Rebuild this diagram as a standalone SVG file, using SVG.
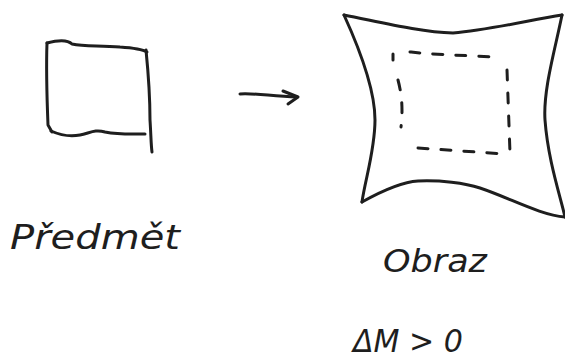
<svg xmlns="http://www.w3.org/2000/svg" width="565" height="363" viewBox="0 0 565 363">
<style>
.ink{fill:none;stroke:#1e1e1e;stroke-width:3;stroke-linecap:round;stroke-linejoin:round}
.dash{fill:none;stroke:#1e1e1e;stroke-width:3;stroke-linecap:round;stroke-dasharray:10 13}
.lbl{font-family:"DejaVu Sans","Liberation Sans",sans-serif;font-style:italic;fill:#1e1e1e}
</style>
<rect width="565" height="363" fill="#ffffff"/>
<g id="predmet">
<path class="ink" d="M47,43 C58,40 68,40 72,44 C85,47 100,45 120,47 C135,48 142,49 147,52"/>
<path class="ink" d="M146,50 C148,70 150,100 150,120 C151,135 151,145 152,152"/>
<path class="ink" d="M47,43 C46,70 47,100 48,125 L52,132"/>
<path class="ink" d="M51,131 C60,135 70,137 80,135 C90,133 95,129 105,132 C120,135 135,134 145,134"/>
<text class="lbl" x="10" y="249" font-size="34" textLength="170" lengthAdjust="spacingAndGlyphs">Předmět</text>
</g>
<g id="obraz">
<path class="ink" d="M344,15 C380,22 420,32 453,33 C490,30 530,20 562,15"/>
<path class="ink" d="M562,15 C555,50 543,90 545,120 C548,160 560,195 565,217"/>
<path class="ink" d="M362,202 C380,192 400,182 418,181 C440,180 465,183 480,188 C510,198 540,215 565,217"/>
<path class="ink" d="M344,15 C360,50 375,90 375,120 C375,150 365,180 362,202"/>
<path class="dash" d="M393,54 L393,60 M410,52 C430,54 450,55 475,56 L493,57 M398,80 C402,95 403,110 401,127 M507,70 L510,153 M418,148 L505,154"/>
<text class="lbl" x="383" y="272" font-size="32" textLength="104" lengthAdjust="spacingAndGlyphs">Obraz</text>
<text class="lbl" x="353" y="352" font-size="32" textLength="110" lengthAdjust="spacingAndGlyphs">ΔM &gt; 0</text>
</g>
<g id="connectors">
<path class="ink" d="M240,94 C255,93 270,96 297,97"/>
<path class="ink" d="M283,91 L298,97 L288,104"/>
</g>
</svg>
